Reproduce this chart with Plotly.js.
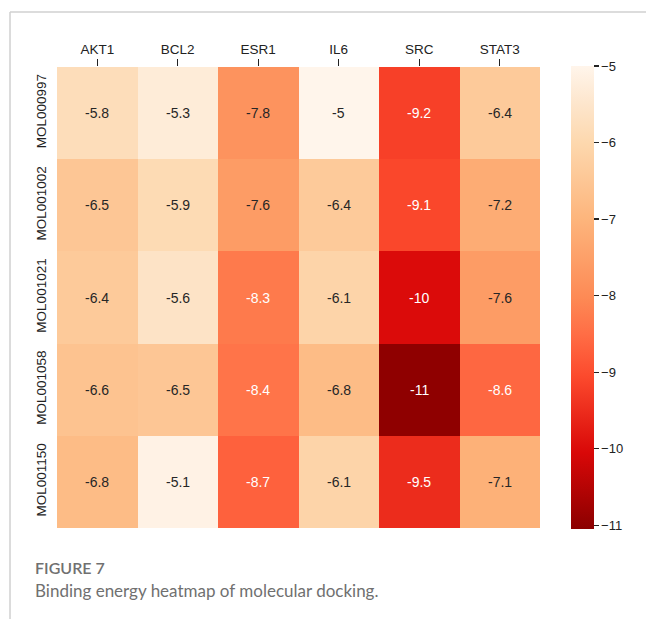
<!DOCTYPE html>
<html>
<head>
<meta charset="utf-8">
<script src="https://cdn.plot.ly/plotly-3.0.1.min.js"></script>
<style>html,body{margin:0;padding:0;background:#fff;}#chart{width:646px;height:619px;}</style>
</head>
<body>
<div id="chart"></div>
<script>
// Data
const targets = ["AKT1", "BCL2", "ESR1", "IL6", "SRC", "STAT3"];
const molecules = ["MOL000997", "MOL001002", "MOL001021", "MOL001058", "MOL001150"];
const energyMOL000997 = [-5.8, -5.3, -7.8, -5.0, -9.2, -6.4];
const energyMOL001002 = [-6.5, -5.9, -7.6, -6.4, -9.1, -7.2];
const energyMOL001021 = [-6.4, -5.6, -8.3, -6.1, -10, -7.6];
const energyMOL001058 = [-6.6, -6.5, -8.4, -6.8, -11, -8.6];
const energyMOL001150 = [-6.8, -5.1, -8.7, -6.1, -9.5, -7.1];
const colorbarTicks = [-5, -6, -7, -8, -9, -10, -11];

const z = [energyMOL000997, energyMOL001002, energyMOL001021, energyMOL001058, energyMOL001150];

const zmin = -11.05, zmax = -5;
const colorscale = [
  [0.0, "#8b0000"],
  [0.165, "#d90808"],
  [0.33, "#fc4a2d"],
  [0.42, "#ff6d45"],
  [0.5, "#fd8a55"],
  [0.67, "#fdb57c"],
  [0.835, "#fdd8ae"],
  [0.92, "#fde6cd"],
  [1.0, "#fff5eb"]
];

const annotations = [];
molecules.forEach((m, i) => {
  targets.forEach((t, j) => {
    const v = z[i][j];
    annotations.push({
      x: t, y: m, xref: "x", yref: "y",
      text: String(v),
      showarrow: false,
      font: {family: "Liberation Sans, Arial, sans-serif", size: 14, color: v <= -8 ? "#ffffff" : "#262626"}
    });
  });
});

// Caption
annotations.push({
  xref: "paper", yref: "paper", x: -0.0497, y: -0.085, xanchor: "left", yanchor: "middle",
  text: "FIGURE 7", showarrow: false,
  font: {family: "Lato, sans-serif", size: 16, color: "#707070", weight: 600}
});
annotations.push({
  xref: "paper", yref: "paper", x: -0.0497, y: -0.135, xanchor: "left", yanchor: "middle",
  text: "Binding energy heatmap of molecular docking.", showarrow: false,
  font: {family: "Lato, sans-serif", size: 17, color: "#707070"}
});

const trace = {
  type: "heatmap",
  x: targets,
  y: molecules,
  z: z,
  zmin: zmin, zmax: zmax,
  colorscale: colorscale,
  xgap: 0, ygap: 0,
  hoverinfo: "x+y+z",
  colorbar: {
    thickness: 23,
    len: 1.004,
    lenmode: "fraction",
    y: 0.5, yanchor: "middle",
    x: 1.064, xanchor: "left",
    xpad: 0, ypad: 0,
    outlinewidth: 0,
    ticks: "outside",
    ticklen: 5,
    tickwidth: 1.2,
    tickcolor: "#222",
    tickvals: colorbarTicks,
    tickfont: {family: "Liberation Sans, Arial, sans-serif", size: 13, color: "#222"}
  }
};

const layout = {
  width: 646, height: 619,
  margin: {l: 57, r: 106, t: 67, b: 91},
  paper_bgcolor: "#ffffff",
  plot_bgcolor: "#ffffff",
  xaxis: {
    side: "top",
    ticks: "outside",
    ticklen: 7,
    tickwidth: 1.2,
    tickcolor: "#222",
    showgrid: false, zeroline: false, showline: false,
    tickfont: {family: "Liberation Sans, Arial, sans-serif", size: 13.5, color: "#222"}
  },
  yaxis: {
    autorange: "reversed",
    ticks: "",
    tickangle: -90,
    ticklabelstandoff: 7,
    showgrid: false, zeroline: false, showline: false,
    tickfont: {family: "Liberation Sans, Arial, sans-serif", size: 13.5, color: "#222"}
  },
  annotations: annotations,
  shapes: [
    {type: "line", xref: "paper", yref: "paper", x0: -0.0973, x1: -0.0973, y0: 1.1193, y1: -0.2, line: {color: "#d0d0d0", width: 1.5}},
    {type: "line", xref: "paper", yref: "paper", x0: -0.0973, x1: 1.23, y0: 1.1193, y1: 1.1193, line: {color: "#d0d0d0", width: 1.5}}
  ]
};

Plotly.newPlot("chart", [trace], layout, {displayModeBar: false, staticPlot: true});
</script>
</body>
</html>
